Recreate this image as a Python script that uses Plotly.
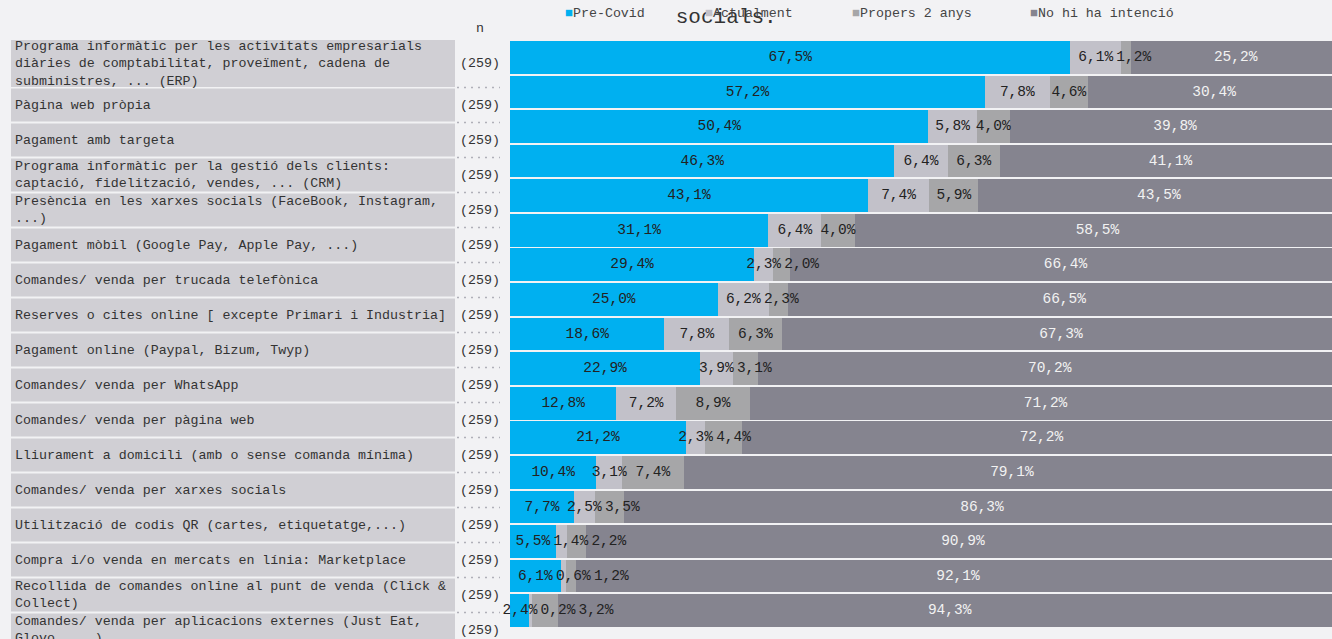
import plotly.graph_objects as go

# ---------------- data ----------------
categories = [
    "Programa informàtic per les activitats empresarials<br>diàries de comptabilitat, proveïment, cadena de<br>subministres, ... (ERP)",
    "Pàgina web pròpia",
    "Pagament amb targeta",
    "Programa informàtic per la gestió dels clients:<br>captació, fidelització, vendes, ... (CRM)",
    "Presència en les xarxes socials (FaceBook, Instagram,<br>...)",
    "Pagament mòbil (Google Pay, Apple Pay, ...)",
    "Comandes/ venda per trucada telefònica",
    "Reserves o cites online [ excepte Primari i Industria]",
    "Pagament online (Paypal, Bizum, Twyp)",
    "Comandes/ venda per WhatsApp",
    "Comandes/ venda per pàgina web",
    "Lliurament a domicili (amb o sense comanda mínima)",
    "Comandes/ venda per xarxes socials",
    "Utilització de codis QR (cartes, etiquetatge,...)",
    "Compra i/o venda en mercats en línia: Marketplace",
    "Recollida de comandes online al punt de venda (Click &<br>Collect)",
    "Comandes/ venda per aplicacions externes (Just Eat,<br>Glovo, ...)",
]
n_values = [259] * 17

series_names = ["Pre-Covid", "Actualment", "Propers 2 anys", "No hi ha intenció"]
pre_covid = [67.5, 57.2, 50.4, 46.3, 43.1, 31.1, 29.4, 25.0, 18.6, 22.9, 12.8, 21.2, 10.4, 7.7, 5.5, 6.1, 2.4]
actualment = [6.1, 7.8, 5.8, 6.4, 7.4, 6.4, 2.3, 6.2, 7.8, 3.9, 7.2, 2.3, 3.1, 2.5, 1.4, 0.6, 0.2]
propers_2_anys = [1.2, 4.6, 4.0, 6.3, 5.9, 4.0, 2.0, 2.3, 6.3, 3.1, 8.9, 4.4, 7.4, 3.5, 2.2, 1.2, 3.2]
no_intencio = [25.2, 30.4, 39.8, 41.1, 43.5, 58.5, 66.4, 66.5, 67.3, 70.2, 71.2, 72.2, 79.1, 86.3, 90.9, 92.1, 94.3]

title_text = ("Indiqui en quina situació es troba la seva empresa respecte a la implantació de les següents "
              "eines digitals de gestió, comercialització, pagament i presència a les xarxes<br>socials.")

# ---------------- styles ----------------
colors = ["#00b0f0", "#c2c1c9", "#a6a6a8", "#85848f"]
text_colors = ["#222222", "#222222", "#222222", "#f2f2f2"]
FONT = "Liberation Mono, Courier New, monospace"
BG = "#f2f2f4"
BOX = "#d0cfd4"

OFF = 0                      # body margin removed by post_script
SW, SH = 1332, 639           # screen size
W, H = SW - OFF, SH - OFF    # figure size
T = 40 - OFF
paper_h = H - T
BAR_LEFT = 510               # screen px
XMAX = 99.0

def pxx(p):   # screen x -> paper x
    return (p - OFF) / W

def pxy(p):   # screen y -> paper y
    return (SH - p) / paper_h

series = [pre_covid, actualment, propers_2_anys, no_intencio]
nrows = len(categories)
rows_idx = list(range(nrows))

fig = go.Figure()

# stacked bars
for name, vals, col in zip(series_names, series, colors):
    fig.add_trace(go.Bar(
        y=rows_idx, x=vals, orientation="h", name=name,
        marker=dict(color=col, line=dict(width=0)),
        xaxis="x", yaxis="y", showlegend=False, hoverinfo="x+name",
    ))

# value labels (drawn above the bars), nudged to avoid overlaps
px_per_unit = (SW - BAR_LEFT) / XMAX
min_gap = 38 / px_per_unit
label_x = [[0] * nrows for _ in series]
for r in range(nrows):
    cum = 0.0
    prev = None
    for s, vals in enumerate(series):
        c = cum + vals[r] / 2
        if prev is not None and c < prev + min_gap:
            c = prev + min_gap
        label_x[s][r] = c
        prev = c
        cum += vals[r]

def fmt(v):
    return f"{v:.1f}".replace(".", ",") + "%"

for s, vals in enumerate(series):
    fig.add_trace(go.Scatter(
        x=label_x[s], y=rows_idx, mode="text",
        text=[fmt(v) for v in vals], textposition="middle center",
        textfont=dict(family=FONT, size=14.5, color=text_colors[s]),
        xaxis="x", yaxis="y", showlegend=False, hoverinfo="skip", cliponaxis=False,
    ))

# label table (left) on its own screen-pixel-unit axes
PITCH = 35.0
ROW2_CENTER = 105.0
def px_to_u(p):
    return 1 + (p - ROW2_CENTER) / PITCH

u_top = px_to_u(40)
u_bot = px_to_u(SH)
row_centers = [(px_to_u(40) + px_to_u(87)) / 2] + list(range(1, nrows))

sep_x, sep_y = [], []
for i in range(nrows - 1):
    sep_x += [457, 500, None]
    sep_y += [i + 0.5, i + 0.5, None]
fig.add_trace(go.Scatter(
    x=sep_x, y=sep_y, mode="lines",
    line=dict(color="#b0b0b8", width=1.5, dash="2px,5px"),
    xaxis="x2", yaxis="y2", showlegend=False, hoverinfo="skip",
))

shapes = []
for i in range(nrows):
    if i == 0:
        y0, y1 = px_to_u(40), px_to_u(87)
    else:
        y0, y1 = i - 33 / PITCH / 2, i + 33 / PITCH / 2
    shapes.append(dict(type="rect", xref="x2", yref="y2", x0=11, x1=455, y0=y0, y1=y1,
                       fillcolor=BOX, line=dict(width=0), layer="below"))

annotations = []
for i, (cat, n) in enumerate(zip(categories, n_values)):
    annotations.append(dict(
        x=13, y=row_centers[i], xref="x2", yref="y2", text=cat, showarrow=False,
        xanchor="left", yanchor="middle", align="left",
        font=dict(family=FONT, size=13.3, color="#333333"),
    ))
    annotations.append(dict(
        x=480, y=row_centers[i], xref="x2", yref="y2", text=f"({n})", showarrow=False,
        xanchor="center", yanchor="middle",
        font=dict(family=FONT, size=13.3, color="#333333"),
    ))
annotations.append(dict(
    x=pxx(480), y=pxy(28), xref="paper", yref="paper", text="n", showarrow=False,
    xanchor="center", yanchor="middle", font=dict(family=FONT, size=13.3, color="#333333"),
))

# title (only its last line falls inside the page)
annotations.append(dict(
    x=pxx(726), y=pxy(31), xref="paper", yref="paper", text=title_text, showarrow=False,
    xanchor="center", yanchor="bottom", align="center",
    font=dict(family=FONT, size=21, color="#333333"),
))

# legend (marker square + text)
legend_px = [563, 703, 850, 1028]
for name, col, xp in zip(series_names, colors, legend_px):
    annotations.append(dict(
        x=pxx(xp), y=pxy(14), xref="paper", yref="paper",
        text=f"<span style='color:{col}'>■</span>{name}", showarrow=False,
        xanchor="left", yanchor="middle",
        font=dict(family=FONT, size=13.3, color="#444444"),
    ))

fig.update_layout(
    width=W, height=H,
    margin=dict(l=0, r=0, t=T, b=0, pad=0),
    paper_bgcolor=BG, plot_bgcolor=BG,
    barmode="stack", bargap=0.055,
    xaxis=dict(domain=[pxx(BAR_LEFT), 1], range=[0, XMAX], visible=False, fixedrange=True),
    yaxis=dict(domain=[(SH - 628) / paper_h, 1], range=[nrows - 0.5, -0.5], visible=False,
               anchor="x", fixedrange=True),
    xaxis2=dict(domain=[0, pxx(BAR_LEFT)], range=[OFF, BAR_LEFT], visible=False, anchor="y2",
                fixedrange=True),
    yaxis2=dict(domain=[0, 1], range=[u_bot, u_top], visible=False, anchor="x2", fixedrange=True),
    shapes=shapes,
    annotations=annotations,
    showlegend=False,
)

fig.write_html(
    "out.html",
    config={"displayModeBar": False},
    post_script="document.body.style.margin='0px';document.documentElement.style.overflow='hidden';",
)
